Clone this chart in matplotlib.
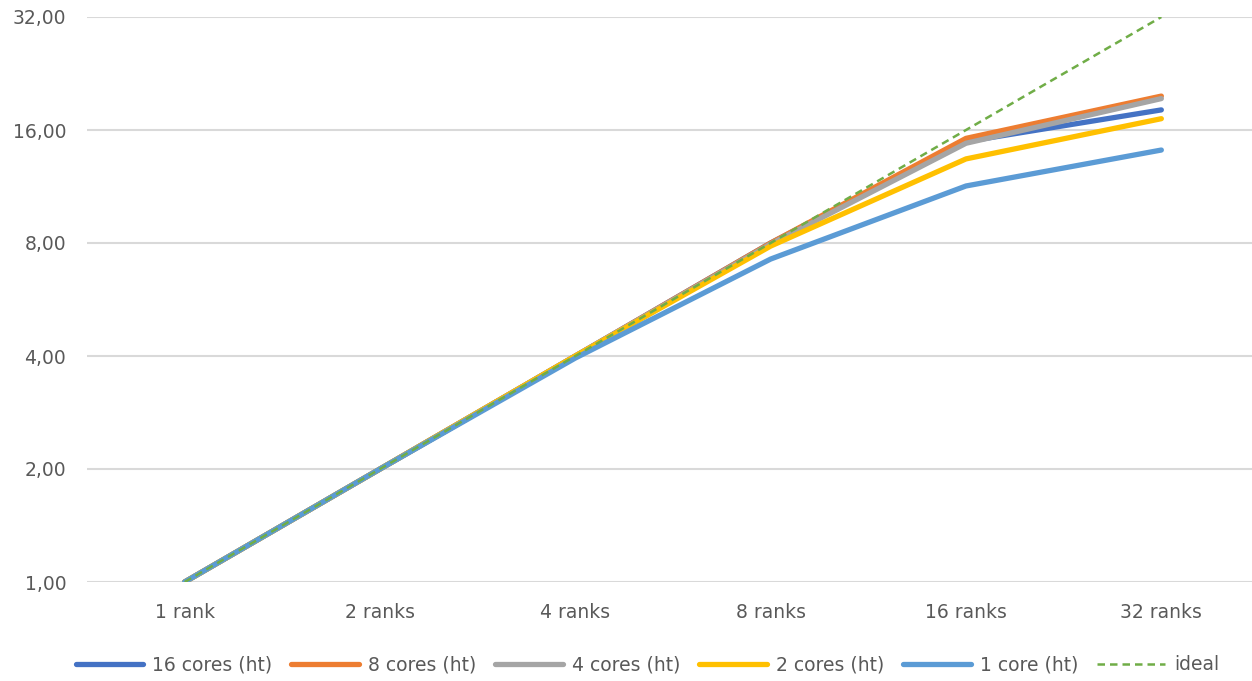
import matplotlib

matplotlib.use("Agg")

import matplotlib.pyplot as plt
from matplotlib.ticker import FixedLocator, FuncFormatter

# данные (ускорение по числу рангов)
categories = ["1 rank", "2 ranks", "4 ranks", "8 ranks", "16 ranks", "32 ranks"]
cores_16 = [1.0, 2.0, 4.0, 8.0, 14.9, 18.1]
cores_8 = [1.0, 2.0, 4.0, 8.0, 15.2, 19.7]
cores_4 = [1.0, 2.0, 4.0, 7.95, 14.75, 19.4]
cores_2 = [1.0, 2.0, 4.0, 7.85, 13.4, 17.15]
cores_1 = [1.0, 2.0, 3.95, 7.25, 11.35, 14.15]
ideal = [1.0, 2.0, 4.0, 8.0, 16.0, 32.0]

series_names = ["16 cores (ht)", "8 cores (ht)", "4 cores (ht)",
                "2 cores (ht)", "1 core (ht)"]
series_values = [cores_16, cores_8, cores_4, cores_2, cores_1]
series_colors = ["#4472C4", "#ED7D31", "#A5A5A5", "#FFC000", "#5B9BD5"]
y_ticks = [1, 2, 4, 8, 16, 32]

plt.rcParams["font.family"] = ["DejaVu Sans"]
text_color = "#595959"
grid_color = "#D9D9D9"

fig = plt.figure(figsize=(12.52, 6.81), dpi=100)
ax = fig.add_axes([87 / 1252, 1 - 582 / 681, 1172 / 1252, 565 / 681])

x = list(range(len(categories)))
lines = []
for name, vals, col in zip(series_names, series_values, series_colors):
    ln, = ax.plot(x, vals, color=col, lw=3.8, solid_capstyle="round",
                  solid_joinstyle="round", label=name, zorder=3)
    lines.append(ln)
ln, = ax.plot(x, ideal, color="#70AD47", lw=1.8, linestyle=(0, (3, 2)),
              label="ideal", zorder=4)
lines.append(ln)

ax.set_yscale("log", base=2)
ax.set_ylim(1, 32)
ax.set_xlim(-0.5, len(categories) - 0.5)
ax.yaxis.set_major_locator(FixedLocator(y_ticks))
ax.yaxis.set_minor_locator(FixedLocator([]))
ax.yaxis.set_major_formatter(FuncFormatter(lambda v, p: f"{v:.2f}".replace(".", ",")))
ax.set_xticks(x)
ax.set_xticklabels(categories)

for s in ax.spines.values():
    s.set_visible(False)
ax.grid(True, axis="y", color=grid_color, lw=1.5, zorder=0)
ax.set_axisbelow(True)
ax.tick_params(axis="both", length=0, labelsize=13.5, colors=text_color)
ax.tick_params(axis="y", pad=15)
ax.tick_params(axis="x", pad=15)

fig.legend(handles=lines, loc="center", bbox_to_anchor=(0.517, 1 - 665 / 681),
           ncol=6, frameon=False, fontsize=13.5, handlelength=3.6,
           handletextpad=0.5, columnspacing=1.0, labelcolor=text_color)

fig.savefig("out.png", dpi=100)
plt.close(fig)
